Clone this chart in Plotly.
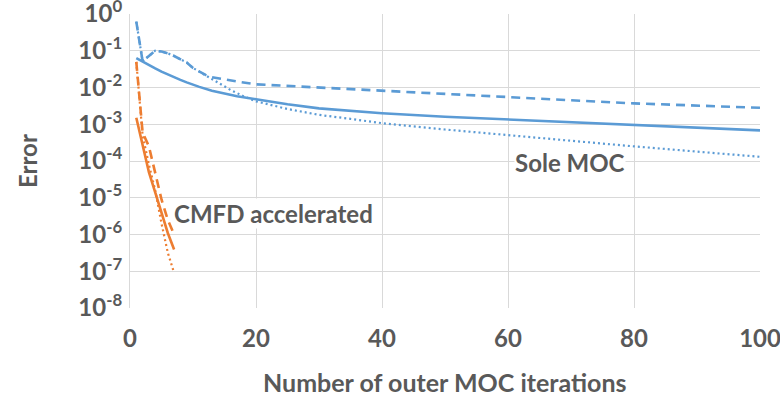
import plotly.graph_objects as go

# Sole MOC (blue)
moc_solid_x = [1, 2, 3, 4, 5, 6, 7, 8, 9, 10, 11, 13, 15, 17, 20, 25, 30, 35, 40, 50, 60, 70, 80, 90, 100]
moc_solid_y = [0.063, 0.050, 0.041, 0.033, 0.027, 0.0224, 0.0189, 0.0161, 0.0138, 0.0119, 0.0104,
               0.0081, 0.0068, 0.0058, 0.0048, 0.0035, 0.0027, 0.0023, 0.0020, 0.0016, 0.00135,
               0.00114, 0.00095, 0.00080, 0.00068]
moc_dash_x = [1, 2, 3, 4, 5, 6, 7, 8, 9, 10, 11, 12, 13, 15, 17, 20, 25, 30, 40, 50, 60, 70, 80, 90, 100]
moc_dash_y = [0.62, 0.052, 0.072, 0.100, 0.095, 0.085, 0.072, 0.060, 0.048, 0.034, 0.027, 0.022,
              0.019, 0.0165, 0.0145, 0.0122, 0.0110, 0.0100, 0.0082, 0.0066, 0.0054, 0.0045,
              0.0037, 0.0032, 0.0028]
moc_dot_x = [1, 2, 3, 4, 5, 6, 7, 8, 9, 10, 11, 12, 13, 14, 16, 18, 20, 25, 30, 35, 40, 50, 60, 70, 80, 90, 100]
moc_dot_y = [0.62, 0.052, 0.072, 0.100, 0.095, 0.085, 0.072, 0.060, 0.048, 0.034, 0.027, 0.021,
             0.017, 0.013, 0.0085, 0.0058, 0.0042, 0.0026, 0.0018, 0.0014, 0.00107, 0.00072,
             0.00050, 0.00035, 0.00025, 0.00018, 0.00013]

# CMFD accelerated (orange)
cmfd_x = [1, 2, 3, 4, 5, 6, 7]
cmfd_solid_y = [1.5e-3, 2.5e-4, 5.0e-5, 1.4e-5, 4.0e-6, 1.1e-6, 3.9e-7]
cmfd_dash_y = [5.0e-2, 6.0e-4, 2.5e-4, 5.0e-5, 9.0e-6, 2.5e-6, 1.0e-6]
cmfd_dot_y = [5.0e-2, 5.0e-4, 8.0e-5, 1.6e-5, 2.0e-6, 3.2e-7, 9.0e-8]

y_tickvals = [1, 1e-1, 1e-2, 1e-3, 1e-4, 1e-5, 1e-6, 1e-7, 1e-8]
y_ticktext = ["10<sup>0</sup>", "10<sup>-1</sup>", "10<sup>-2</sup>", "10<sup>-3</sup>",
              "10<sup>-4</sup>", "10<sup>-5</sup>", "10<sup>-6</sup>", "10<sup>-7</sup>",
              "10<sup>-8</sup>"]
x_tickvals = [0, 20, 40, 60, 80, 100]

BLUE = "#5B9BD5"
ORANGE = "#ED7D31"
TXT = "#595959"
GRID = "#D9D9D9"
FONT = "Lato"
FS = 24

def tfont(size=FS):
    return dict(family=FONT, size=size, color=TXT, weight="bold")

fig = go.Figure()
fig.add_trace(go.Scatter(x=moc_dash_x, y=moc_dash_y, mode="lines",
                         line=dict(color=BLUE, width=2.6, dash="9px,6px")))
fig.add_trace(go.Scatter(x=moc_dot_x, y=moc_dot_y, mode="lines",
                         line=dict(color=BLUE, width=2.2, dash="2px,3px")))
fig.add_trace(go.Scatter(x=moc_solid_x, y=moc_solid_y, mode="lines",
                         line=dict(color=BLUE, width=2.6)))
fig.add_trace(go.Scatter(x=cmfd_x, y=cmfd_dash_y, mode="lines",
                         line=dict(color=ORANGE, width=2.6, dash="9px,6px")))
fig.add_trace(go.Scatter(x=cmfd_x, y=cmfd_dot_y, mode="lines",
                         line=dict(color=ORANGE, width=2.2, dash="2px,3px")))
fig.add_trace(go.Scatter(x=cmfd_x, y=cmfd_solid_y, mode="lines",
                         line=dict(color=ORANGE, width=2.6)))

fig.add_annotation(x=6.9, y=-5.43, xref="x", yref="y", text="CMFD accelerated",
                   showarrow=False, xanchor="left", yanchor="middle", bgcolor="white",
                   borderpad=0, font=tfont())
fig.add_annotation(x=69.9, y=-4.05, xref="x", yref="y", text="Sole MOC",
                   showarrow=False, xanchor="center", yanchor="middle", bgcolor="white",
                   borderpad=0, font=tfont())
# axis titles
fig.add_annotation(x=-0.1635, y=0.5, xref="paper", yref="paper", text="Error",
                   showarrow=False, textangle=-90, xanchor="center", yanchor="middle",
                   font=tfont())
fig.add_annotation(x=0.5, y=-0.25, xref="paper", yref="paper",
                   text="Number of outer MOC iterations",
                   showarrow=False, xanchor="center", yanchor="middle", font=tfont(25))

fig.update_layout(
    width=780, height=395,
    margin=dict(l=130, r=20, t=14, b=87),
    plot_bgcolor="white", paper_bgcolor="white",
    showlegend=False,
    font=dict(family=FONT, color=TXT, weight="bold"),
)
fig.update_xaxes(range=[0, 100], tickvals=x_tickvals, showgrid=True, gridcolor=GRID,
                 gridwidth=1, zeroline=False, showline=False, ticks="",
                 tickfont=tfont(), ticklabelstandoff=14, automargin=False,
                 ticklabeloverflow="allow")
fig.update_yaxes(type="log", range=[-8, 0], tickvals=y_tickvals, ticktext=y_ticktext,
                 showgrid=True, gridcolor=GRID, gridwidth=1, zeroline=False,
                 showline=True, linecolor=GRID, ticks="",
                 tickfont=tfont(), ticklabelstandoff=2, automargin=False,
                 ticklabeloverflow="allow")

# remove the default 8px page margin so the figure sits at the window's corner
fig.write_html("out.html", config={"displayModeBar": False},
               post_script="document.body.style.margin='0px';")
